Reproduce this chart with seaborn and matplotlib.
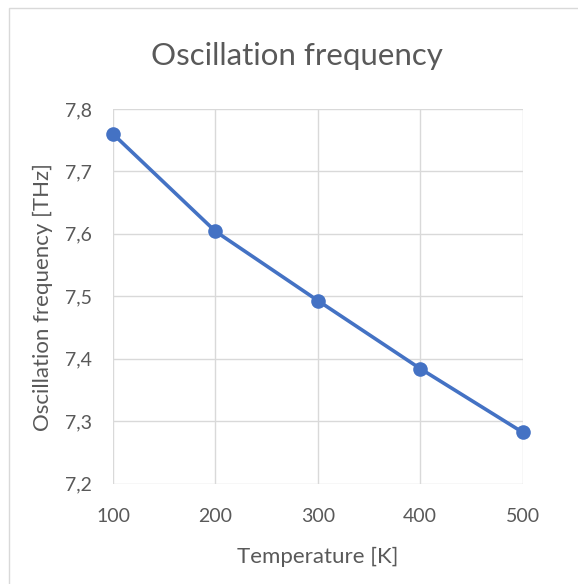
import matplotlib
matplotlib.use("Agg")
import matplotlib.pyplot as plt
import matplotlib.patches as mpatches
import seaborn as sns
import pandas as pd

temperature = [100, 200, 300, 400, 500]
frequency = [7.76, 7.604, 7.493, 7.384, 7.282]
y_ticks = [7.2, 7.3, 7.4, 7.5, 7.6, 7.7, 7.8]
y_tick_labels = ["7,2", "7,3", "7,4", "7,5", "7,6", "7,7", "7,8"]
x_ticks = [100, 200, 300, 400, 500]
x_tick_labels = ["100", "200", "300", "400", "500"]
title = "Oscillation frequency"
x_label = "Temperature [K]"
y_label = "Oscillation frequency [THz]"

sns.set_theme(style="white")
plt.rcParams['font.family'] = ['Lato', 'DejaVu Sans']

df = pd.DataFrame({"T": temperature, "f": frequency})

W, H = 578, 584
fig = plt.figure(figsize=(W / 100, H / 100), dpi=100)
ax = fig.add_axes([113/W, 1 - 483.5/H, (522.7 - 113)/W, (483.5 - 109)/H])

sns.lineplot(data=df, x="T", y="f", ax=ax, color="#4472C4", linewidth=2.6,
             marker="o", markersize=10.5, markeredgewidth=0, zorder=3, clip_on=False)

ax.set_xlim(100, 500)
ax.set_ylim(7.2, 7.8)
ax.set_xticks(x_ticks)
ax.set_xticklabels(x_tick_labels)
ax.set_yticks(y_ticks)
ax.set_yticklabels(y_tick_labels)
ax.grid(True, color="#D9D9D9", linewidth=1)
for s in ax.spines.values():
    s.set_visible(False)
ax.tick_params(axis="both", length=0, labelsize=14, colors="#595959")
ax.tick_params(axis="y", pad=15)
ax.tick_params(axis="x", pad=18)
ax.set_xlabel("")
ax.set_ylabel("")
fig.text(318/W, 1 - 557/H, x_label, ha="center", va="center", fontsize=16, color="#595959")
fig.text(43/W, 1 - 297/H, y_label, ha="center", va="center", rotation=90,
         fontsize=16, color="#595959")
fig.text(297/W, 1 - 56/H, title, ha="center", va="center", fontsize=22.5, color="#595959")

frame = mpatches.Rectangle((9/W, -0.1), 1.2, 1 - 8/H + 0.1, transform=fig.transFigure,
                           fill=False, edgecolor="#D9D9D9", linewidth=1)
fig.patches.append(frame)

fig.savefig("out.png", dpi=100, facecolor="white")
